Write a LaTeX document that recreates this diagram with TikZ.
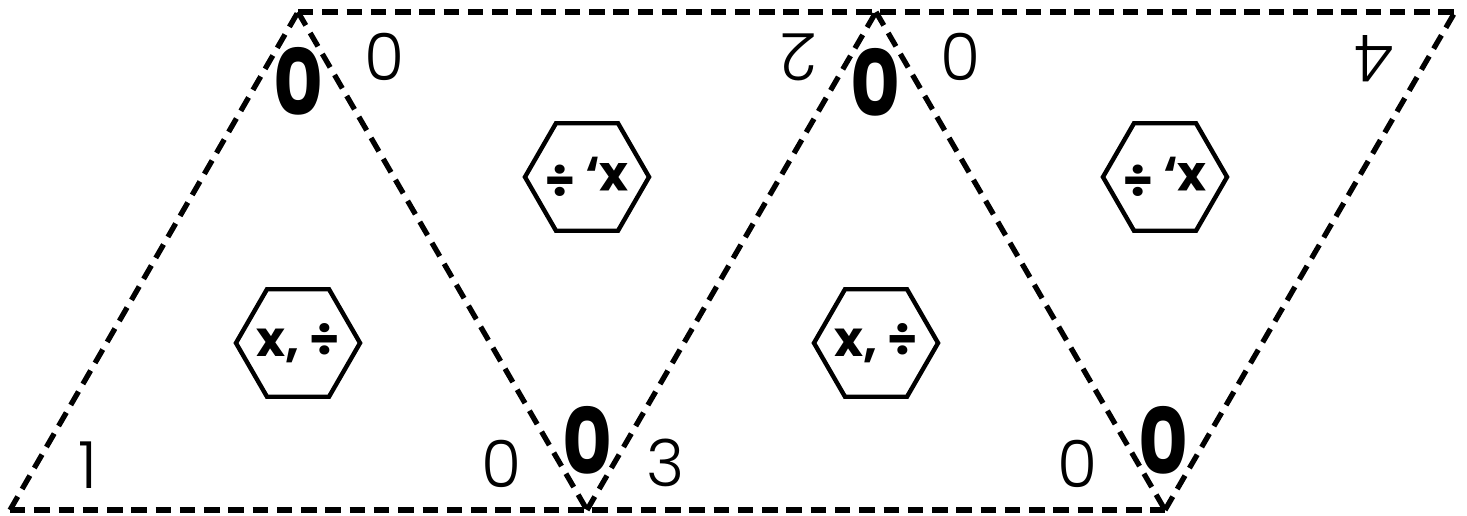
\documentclass[tikz,border=0pt]{standalone}
\usepackage{fontspec}
\setmainfont{Poppins}
\newfontfamily\thinfont{Poppins Light}
\usetikzlibrary{shapes.geometric, positioning}

\begin{document}
\begin{tikzpicture}[
  x=0.01cm, y=-0.01cm,
  edge/.style={line width=1.5pt, dash pattern=on 4.4pt off 2.5pt},
  hexa/.style={regular polygon, regular polygon sides=6, draw=black, line width=1.25pt, minimum size=1.24cm, inner sep=0pt, font=\fontsize{14}{16}\selectfont\bfseries},
  corner/.style={inner sep=0pt, font=\thinfont\fontsize{18.5}{22}\selectfont},
  bigzero/.style={inner sep=0pt, xscale=0.84, font=\fontsize{26}{30}\selectfont\bfseries}
]
\useasboundingbox (0,0) rectangle (1467,516);

% Vertices
\coordinate (b0) at (10,510);
\coordinate (b1) at (587,510);
\coordinate (b2) at (1165,510);
\coordinate (t0) at (298,12);
\coordinate (t1) at (876,12);
\coordinate (t2) at (1455,12);

% Fold lines
\draw [edge] (b0) -- (b2);
\draw [edge] (t0) -- (t2);
\draw [edge] (b0) -- (t0);
\draw [edge] (t0) -- (b1);
\draw [edge] (b1) -- (t1);
\draw [edge] (t1) -- (b2);
\draw [edge] (b2) -- (t2);

% Operation hexagons
\node (hexA) [hexa] at (298,343) {\makebox[0pt]{x, ÷}};
\node (hexB) [hexa, rotate=180] at (587,177) {\makebox[0pt]{x, ÷}};
\node (hexC) [hexa] at (876,343) {\makebox[0pt]{x, ÷}};
\node (hexD) [hexa, rotate=180] at (1165,177) {\makebox[0pt]{x, ÷}};

% Corner numbers
\node (numA) [corner] at (88,465) {1};
\node (zeroA) [corner] at (502,464) {0};
\node (zeroB) [corner] at (385,57) {0};
\node (numB) [corner, rotate=180] at (799,57) {2};
\node (numC) [corner] at (666,463) {3};
\node (zeroC) [corner] at (1078,464) {0};
\node (zeroD) [corner] at (961,57) {0};
\node (numD) [corner, rotate=180] at (1375,59) {4};

% Bold zeros at the vertices
\node (topA) [bigzero] at (299,81) {0};
\node (topC) [bigzero] at (876,82) {0};
\node (botB) [bigzero] at (588,440) {0};
\node (botD) [bigzero] at (1164,440) {0};
\end{tikzpicture}
\end{document}
